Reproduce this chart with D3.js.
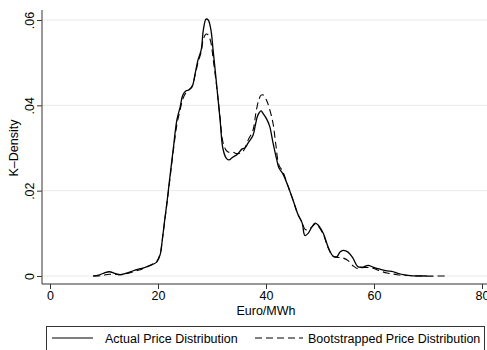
<!DOCTYPE html>
<html>
<head>
<meta charset="utf-8">
<script src="https://cdn.jsdelivr.net/npm/d3@7"></script>
<style>
  body { margin: 0; background: #fff; }
  text { font-family: "Liberation Sans", Arial, sans-serif; fill: #000; }
</style>
</head>
<body>
<svg id="chart" width="487" height="350"></svg>
<script>
// price grid (Euro/MWh) shared by both curves
var priceActual = [8, 9, 10, 11, 12, 13, 14, 15, 16, 17, 18, 19, 19.8, 20.4, 20.8, 21.2, 21.6, 22, 22.8, 23.5, 24.1, 24.6, 25.2, 25.7, 26.3, 26.9, 27.4, 28, 28.4, 28.9, 29.3, 29.8, 30.2, 30.9, 31.5, 32, 32.6, 33.1, 33.9, 34.6, 35.6, 36.1, 36.7, 37.6, 38.1, 38.5, 39.1, 39.4, 40.2, 40.7, 41.3, 42, 42.4, 43.1, 44.1, 45, 45.9, 46.7, 47.2, 47.8, 48.5, 49.1, 49.6, 50.6, 51.5, 52.4, 53.1, 53.7, 54.3, 55.2, 56.1, 57, 58, 58.9, 59.8, 61.1, 62.4, 63.3, 64.3, 65.4, 66.7, 69.8];
var densActual = [0, 0.0002, 0.0007, 0.001, 0.0006, 0.0003, 0.0006, 0.001, 0.0015, 0.0018, 0.0022, 0.0027, 0.0033, 0.005, 0.0085, 0.0127, 0.0166, 0.021, 0.0295, 0.0366, 0.0396, 0.0424, 0.0434, 0.0436, 0.0443, 0.0476, 0.0506, 0.053, 0.0577, 0.0602, 0.06, 0.0577, 0.053, 0.0443, 0.0366, 0.03, 0.0277, 0.0272, 0.0279, 0.0284, 0.0298, 0.03, 0.0312, 0.033, 0.0358, 0.0377, 0.0387, 0.0382, 0.0366, 0.035, 0.0312, 0.0272, 0.0253, 0.024, 0.021, 0.0178, 0.0145, 0.0124, 0.0095, 0.01, 0.0115, 0.0124, 0.012, 0.01, 0.0068, 0.0047, 0.0045, 0.0056, 0.006, 0.0056, 0.0042, 0.0022, 0.0021, 0.0025, 0.0021, 0.0016, 0.0012, 0.0011, 0.0007, 0.0003, 0.0001, 0];

var priceBoot = [8, 9, 10, 11, 12, 13, 14, 15, 16, 17, 18, 19, 19.8, 20.4, 20.8, 21.2, 21.6, 22, 22.8, 23.5, 24.1, 24.6, 25.2, 25.7, 26.3, 26.9, 27.4, 28, 28.4, 28.9, 29.3, 29.8, 30.2, 30.9, 31.5, 32, 32.6, 33.1, 33.9, 34.6, 35.6, 36.1, 36.7, 37.6, 38.1, 38.6, 39.1, 39.5, 40.1, 40.6, 41.3, 41.8, 42.4, 43.1, 44.1, 45, 45.9, 46.7, 47.2, 47.8, 48.5, 49.1, 49.6, 50.6, 51.5, 52.4, 53.1, 53.7, 54.3, 55.2, 56.1, 57, 58, 58.9, 59.8, 61.1, 62.4, 63.3, 64.3, 65.4, 66.7, 68, 73.5];
var densBoot = [0, 0, 0.0002, 0.0004, 0.0004, 0.0003, 0.0005, 0.0008, 0.0012, 0.0016, 0.0022, 0.0028, 0.0035, 0.0052, 0.0085, 0.0125, 0.0165, 0.0205, 0.029, 0.0355, 0.039, 0.0415, 0.043, 0.0436, 0.0445, 0.0472, 0.05, 0.0525, 0.0555, 0.0567, 0.0565, 0.0547, 0.051, 0.044, 0.037, 0.0315, 0.0295, 0.029, 0.029, 0.0287, 0.029, 0.03, 0.0319, 0.0342, 0.038, 0.041, 0.0424, 0.0424, 0.0412, 0.0394, 0.0358, 0.031, 0.026, 0.0245, 0.021, 0.0178, 0.0145, 0.0125, 0.011, 0.0108, 0.0115, 0.0122, 0.0118, 0.0098, 0.0066, 0.0046, 0.0044, 0.0043, 0.0042, 0.0036, 0.0024, 0.0017, 0.002, 0.002, 0.0018, 0.0012, 0.0007, 0.0005, 0.0003, 0.0002, 0.0001, 0, 0];

var xTicks = [0, 20, 40, 60, 80];
var yTicks = [0, 0.02, 0.04, 0.06];
var yTickLabels = ["0", ".02", ".04", ".06"];
var seriesNames = ["Actual Price Distribution", "Bootstrapped Price Distribution"];

var svg = d3.select("#chart");
var W = 487;
var axisX = 42, axisY = 284, plotTop = 10;
var fontSize = "12.5px";

var x = d3.scaleLinear().domain([0, 80]).range([50, 482]);
var y = d3.scaleLinear().domain([0, 0.06]).range([276, 20]);

// gridlines
svg.append("g").selectAll("line")
  .data(yTicks)
  .enter().append("line")
  .attr("x1", axisX).attr("x2", W)
  .attr("y1", function(d) { return y(d); })
  .attr("y2", function(d) { return y(d); })
  .attr("stroke", "#eaeaea")
  .attr("stroke-width", 1);

// y axis
var yAxis = svg.append("g").attr("transform", "translate(" + axisX + ",0)")
  .call(d3.axisLeft(y).tickValues(yTicks).tickSize(5).tickFormat(function(d, i) { return yTickLabels[i]; }));
yAxis.select(".domain").remove();
yAxis.append("line").attr("x1", 0).attr("x2", 0).attr("y1", plotTop).attr("y2", axisY)
  .attr("stroke", "#555").attr("stroke-width", 1.2);
yAxis.selectAll(".tick line").attr("stroke", "#333");
yAxis.selectAll(".tick text")
  .attr("x", null).attr("dy", null)
  .attr("transform", "translate(-8,0) rotate(-90)")
  .attr("text-anchor", "middle")
  .style("font-size", fontSize)
  .style("font-family", "Liberation Sans, Arial, sans-serif");

// x axis
var xAxis = svg.append("g").attr("transform", "translate(0," + axisY + ")")
  .call(d3.axisBottom(x).tickValues(xTicks).tickSize(5).tickFormat(d3.format("d")));
xAxis.select(".domain").remove();
xAxis.append("line").attr("x1", axisX).attr("x2", W).attr("y1", 0).attr("y2", 0)
  .attr("stroke", "#333").attr("stroke-width", 1.2);
xAxis.selectAll(".tick line").attr("stroke", "#333");
xAxis.selectAll(".tick text")
  .attr("y", 7)
  .style("font-size", fontSize)
  .style("font-family", "Liberation Sans, Arial, sans-serif");

// axis titles
svg.append("text")
  .attr("transform", "translate(18,148) rotate(-90)")
  .attr("text-anchor", "middle")
  .style("font-size", fontSize)
  .text("K\u2013Density");

svg.append("text")
  .attr("x", 266).attr("y", 315)
  .attr("text-anchor", "middle")
  .style("font-size", fontSize)
  .text("Euro/MWh");

// curves
var line = d3.line()
  .x(function(d) { return x(d[0]); })
  .y(function(d) { return y(d[1]); })
  .curve(d3.curveCatmullRom.alpha(0.5));

var actual = d3.zip(priceActual, densActual);
var boot = d3.zip(priceBoot, densBoot);

svg.append("path")
  .datum(boot)
  .attr("d", line)
  .attr("fill", "none")
  .attr("stroke", "#000")
  .attr("stroke-width", 1.1)
  .attr("stroke-dasharray", "7,4");

svg.append("path")
  .datum(actual)
  .attr("d", line)
  .attr("fill", "none")
  .attr("stroke", "#000")
  .attr("stroke-width", 1.3);

// legend
var lg = svg.append("g");
lg.append("rect")
  .attr("x", 46.5).attr("y", 326.5)
  .attr("width", 438).attr("height", 30)
  .attr("fill", "#fff")
  .attr("stroke", "#333")
  .attr("stroke-width", 1);

var legendItems = [
  { name: seriesNames[0], x0: 52, x1: 93, tx: 105, dash: null },
  { name: seriesNames[1], x0: 255, x1: 303, tx: 308, dash: "7,4" }
];
legendItems.forEach(function(it) {
  lg.append("line")
    .attr("x1", it.x0).attr("x2", it.x1)
    .attr("y1", 338).attr("y2", 338)
    .attr("stroke", "#000")
    .attr("stroke-width", 1.1)
    .attr("stroke-dasharray", it.dash);
  lg.append("text")
    .attr("x", it.tx).attr("y", 343)
    .style("font-size", fontSize)
    .text(it.name);
});
</script>
</body>
</html>
